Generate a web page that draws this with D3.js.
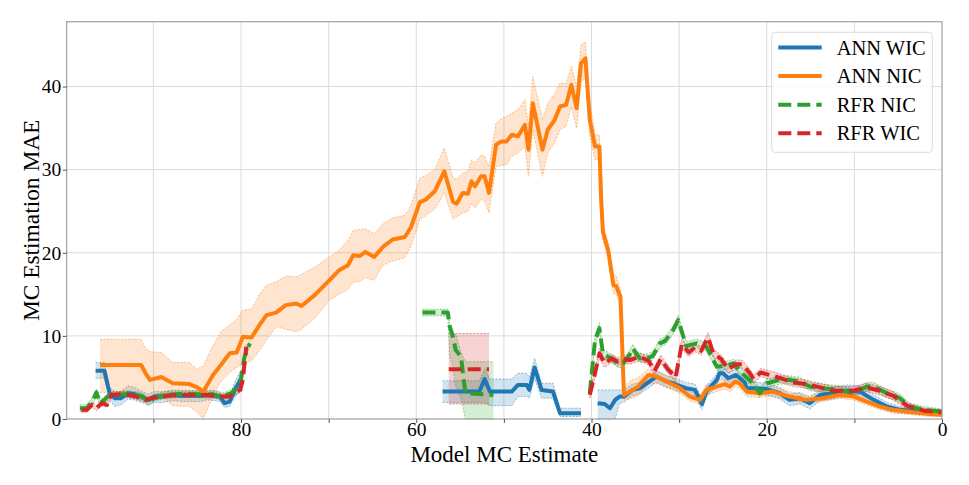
<!DOCTYPE html>
<html><head><meta charset="utf-8">
<script src="https://cdn.jsdelivr.net/npm/d3@7"></script>
<style>body{margin:0;background:#fff}svg{display:block}text{font-family:"Liberation Serif","Times New Roman",serif}</style>
</head><body><svg id="c" width="969" height="485"></svg>
<script>
// ---------- DATA ----------
const xTickValues = [90, 80, 70, 60, 50, 40, 30, 20, 10, 0];
const xTickLabels = [80, 60, 40, 20, 0];
const yTickValues = [0, 10, 20, 30, 40];
const seriesNames = ["ANN WIC", "ANN NIC", "RFR NIC", "RFR WIC"];
const seriesColors = ["#1f77b4", "#ff7f0e", "#2ca02c", "#d62728"];

// ANN WIC
const annWicX  = [96.6,95.6,95.0,94.4,93.7,92.9,92.2,91.4,90.6,89.9,88.9,87.8,86.6,85.5,84.6,83.9,82.9,82.4,81.9,81.3,80.7,80.1,79.8, null,
  57.0,52.8,52.2,51.6,49.1,48.4,47.4,47.1,46.5,45.7,44.4,43.6,41.2, null,
  39.3,38.5,37.9,37.3,36.8,36.3,35.3,34.5,33.7,32.6,32.2,31.4,30.7,30.3,29.2,28.2,27.4,26.9,25.7,25.4,25.0,24.4,23.5,22.5,22.3,21.2,20.0,18.5,17.4,16.2,15.1,13.9,12.4,10.9,9.4,7.8,6.3,4.8,3.3,1.8,0];
const annWicMean = [5.8,5.8,3.1,2.5,2.5,3.1,3.0,2.7,2.3,2.7,2.7,2.9,2.8,2.8,2.8,2.9,2.8,2.7,1.9,2.1,3.5,4.7,4.7, null,
  3.3,3.3,4.8,3.3,3.3,4.1,4.1,3.5,6.2,3.5,3.3,0.7,0.7, null,
  1.9,1.8,1.3,2.3,2.7,2.7,3.5,3.7,4.3,5.1,4.9,4.5,4.3,4.1,3.7,3.5,1.8,3.3,4.7,5.5,5.5,4.9,5.3,4.4,3.7,3.7,3.6,3.1,2.3,2.5,1.9,2.9,3.1,3.4,3.3,2.3,1.5,1.1,1.0,0.9,0.8];
const annWicLo = [4.9,4.9,2.3,1.5,1.7,2.4,2.3,2.0,1.7,2.0,2.0,2.2,2.1,2.1,2.1,2.3,2.2,2.1,1.4,1.5,2.6,3.4,3.4, null,
  2.0,2.0,2.0,1.6,1.6,2.7,2.7,2.5,4.9,2.5,2.5,0.3,0.3, null,
  0.0,0.0,0.0,0.0,1.9,2.0,2.8,3.0,3.6,4.4,4.2,3.8,3.6,3.4,3.0,2.8,1.1,2.6,4.0,4.8,4.8,4.2,4.6,3.7,3.0,3.0,2.9,2.4,1.6,1.8,1.2,2.2,2.4,2.7,2.6,1.7,1.0,0.7,0.6,0.5,0.5];
const annWicHi = [6.8,6.8,3.8,3.3,3.3,4.0,3.8,3.4,3.0,3.3,3.3,3.5,3.4,3.4,3.4,3.5,3.4,3.3,2.5,2.8,4.5,5.7,5.7, null,
  4.6,4.6,6.0,4.8,4.8,5.5,5.5,5.0,7.3,4.3,4.3,1.3,1.3, null,
  3.5,3.5,3.5,3.5,3.5,3.5,4.2,4.4,5.0,5.8,5.6,5.2,5.0,4.8,4.4,4.2,2.5,4.0,5.4,6.2,6.2,5.6,6.0,5.1,4.4,4.4,4.3,3.8,3.0,3.2,2.6,3.6,3.8,4.1,4.0,2.9,2.0,1.5,1.3,1.2,1.1];

// ANN NIC
const annNicX = [96.1,91.4,90.9,90.4,89.1,87.8,85.9,85.0,84.3,83.2,82.3,81.3,80.5,79.8,78.8,77.9,77.1,76.0,74.9,73.7,73.1,71.6,69.9,68.8,67.8,67.2,66.5,65.8,64.8,63.8,62.7,61.3,60.6,59.6,58.9,57.9,56.8,55.8,55.4,54.7,54.1,53.7,53.3,52.6,52.2,51.7,50.9,50.3,49.7,49.1,48.4,47.6,47.2,46.7,45.6,45.0,44.2,43.6,42.9,42.3,41.7,41.2,40.7,40.2,39.6,39.1,38.9,38.7,38.1,37.5,37.2,36.7,36.3,35.6,34.7,33.5,32.6,31.4,29.9,28.8,27.6,26.9,25.7,24.8,24.2,23.6,23.1,22.3,20.8,19.3,17.4,15.5,13.6,11.7,10.1,8.6,7.1,5.6,3.3,1.4,0];
const annNicMean = [6.5,6.5,5.5,4.7,5.05,4.3,4.2,3.8,3.3,5.3,6.5,7.9,8.0,9.9,9.8,11.3,12.5,12.8,13.7,13.9,13.6,14.9,16.7,17.9,18.5,19.7,19.6,20.1,19.5,20.7,21.6,21.9,23.1,26.1,26.4,27.4,29.8,26.1,25.9,27.2,27.1,28.6,28.0,29.2,29.2,27.2,33.0,33.4,33.4,34.2,34.0,35.4,32.4,38.0,32.4,34.8,36.0,37.6,37.8,40.2,37.4,42.8,43.4,36.0,32.8,32.8,26.4,22.5,20.3,16.1,16.0,14.7,2.9,3.3,3.9,5.3,5.1,4.5,3.7,2.7,2.3,3.5,3.9,4.2,3.9,4.5,4.3,3.3,3.1,3.3,2.7,2.3,2.5,2.9,2.7,2.1,1.5,1.1,0.8,0.6,0.5];
const annNicLo = [3.2,3.2,2.7,2.7,2.7,1.6,1.5,0.8,0.0,2.8,4.5,5.6,6.2,6.6,7.0,8.2,9.5,11.1,10.8,10.5,10.8,12.1,14.3,15.0,15.6,16.5,16.5,17.0,16.7,18.5,19.0,19.4,20.8,24.0,24.5,25.2,27.2,24.0,24.3,24.8,25.0,25.9,25.4,26.4,26.2,24.8,30.4,30.5,30.6,31.6,32.0,32.8,29.2,34.8,29.2,32.0,33.2,34.8,35.2,37.6,35.0,40.6,41.0,34.0,31.2,31.2,25.4,21.5,19.3,15.1,15.0,13.8,2.4,2.4,2.8,4.2,4.3,3.8,3.1,2.2,1.8,2.9,3.3,3.6,3.3,3.9,3.7,2.7,2.6,2.8,2.2,1.9,2.1,2.5,2.3,1.7,1.1,0.7,0.5,0.3,0.3];
const annNicHi = [9.6,9.6,8.5,8.1,8.0,6.8,6.8,6.0,6.4,8.8,10.5,11.3,12.0,13.1,13.2,15.0,16.1,16.5,17.2,17.1,17.4,18.3,19.5,20.3,21.5,22.7,22.8,22.9,22.3,23.5,24.2,24.5,25.7,29.0,29.3,30.0,32.6,29.0,28.8,29.6,29.8,31.2,30.8,31.8,31.6,30.4,35.6,36.1,36.4,36.8,37.2,38.4,35.2,41.2,36.0,38.0,39.2,40.4,40.4,42.4,40.0,45.0,45.4,38.2,34.2,34.2,27.4,23.5,21.2,17.5,17.2,15.6,3.6,4.6,5.0,6.0,5.8,5.2,4.3,3.3,2.9,4.1,4.5,4.8,4.5,5.1,4.9,3.9,3.7,3.9,3.3,2.8,3.0,3.3,3.1,2.5,1.9,1.5,1.1,0.9,0.8];

// RFR NIC
const rfrNicX = [98.4,97.6,96.9,96.5,96.1,95.6,95.0,94.2,93.0,92.0,91.2,90.6,89.8,88.6,87.1,85.5,83.9,83.3,82.3,81.1,80.1,79.6,79.0, null,
  59.3,56.4,56.2,55.9,55.5,54.9,54.4,51.2, null,
  40.2,39.6,39.1,38.7,38.1,37.5,37.0,36.4,35.8,35.3,34.5,33.7,33.0,32.2,31.6,30.7,30.1,29.2,28.0,26.9,25.7,24.7,23.8,22.8,21.6,20.8,20.0,18.5,17.4,16.2,15.1,13.6,11.7,10.1,8.6,7.8,6.3,4.8,3.7,2.1,0];
const rfrNicMean = [1.3,1.3,2.3,3.2,1.9,2.3,2.9,2.9,3.0,2.9,2.7,2.0,2.6,2.9,3.0,3.0,2.9,3.0,2.7,3.1,4.3,7.5,9.1, null,
  12.8,12.8,11.2,10.2,8.3,7.5,3.1,2.9, null,
  3.1,9.5,10.9,7.9,7.5,7.1,6.7,6.7,7.5,8.5,7.3,7.3,7.6,9.1,9.4,10.7,11.9,8.8,9.1,8.7,6.3,6.4,6.7,5.5,4.3,3.1,4.3,4.7,4.7,4.5,3.9,3.7,3.5,3.1,3.9,3.9,3.1,2.5,1.5,1.1,0.9];
const rfrNicLo = [0.9,0.9,1.9,2.8,1.5,1.9,2.5,2.5,2.6,2.5,2.3,1.6,2.2,2.5,2.6,2.6,2.5,2.6,2.3,2.7,3.9,7.1,8.7, null,
  12.4,12.4,7.5,6.5,4.0,2.5,0.0,0.0, null,
  2.6,9.0,10.3,7.4,7.0,6.6,6.2,6.2,7.0,8.0,6.8,6.8,7.1,8.6,8.9,10.2,11.3,8.3,8.6,8.2,5.8,5.9,6.2,5.0,3.8,2.6,3.8,4.2,4.2,4.0,3.4,3.2,3.0,2.6,3.4,3.4,2.6,2.0,1.1,0.7,0.6];
const rfrNicHi = [1.7,1.7,2.7,3.6,2.3,2.7,3.3,3.3,3.4,3.3,3.1,2.4,3.0,3.3,3.4,3.4,3.3,3.4,3.1,3.5,4.7,7.9,9.5, null,
  13.2,13.2,11.5,10.2,10.2,8.0,6.9,6.9, null,
  3.6,10.0,11.6,8.4,8.0,7.6,7.2,7.2,8.0,9.0,7.8,7.8,8.1,9.6,9.9,11.2,12.5,9.3,9.6,9.2,6.8,6.9,7.2,6.0,4.8,3.6,4.8,5.2,5.2,5.0,4.4,4.2,4.0,3.6,4.4,4.4,3.6,3.0,1.9,1.5,1.2];

// RFR WIC
const rfrWicX = [98.2,97.6,97.0,96.5,95.9,95.3,94.8,93.3,92.0,90.9,89.8,88.6,87.1,85.5,83.9,82.4,81.3,80.1,79.8,79.4, null,
  56.3,51.7, null,
  40.2,39.6,39.1,38.5,37.7,37.0,36.4,35.6,34.5,33.5,32.8,32.1,31.3,30.4,29.7,28.9,28.2,27.5,26.7,26.1,25.2,24.4,23.5,22.8,22.0,21.5,20.7,19.3,18.1,17.0,15.5,13.9,12.4,10.1,8.6,7.1,5.6,4.0,2.1,0];
const rfrWicMean = [1.1,1.1,1.7,1.3,1.9,1.7,2.9,3.0,2.7,2.3,2.6,2.8,2.9,2.9,2.9,2.7,2.7,3.5,4.7,8.7, null,
  6.0,6.0, null,
  2.9,5.5,7.9,6.7,7.3,6.9,7.2,7.1,7.5,7.0,5.8,7.2,6.0,5.0,9.0,8.0,8.6,8.2,9.8,7.9,7.2,6.0,6.6,6.6,5.6,4.8,5.6,5.2,4.8,4.4,4.2,3.8,3.4,3.4,3.8,3.4,2.8,1.6,1.0,0.8];
const rfrWicLo = [0.8,0.8,1.4,1.0,1.6,1.4,2.6,2.7,2.4,2.0,2.3,2.5,2.6,2.6,2.6,2.4,2.4,3.2,4.4,8.4, null,
  1.8,1.8, null,
  2.5,5.0,7.3,6.2,6.8,6.4,6.7,6.6,7.0,6.5,5.3,6.7,5.5,4.5,8.4,7.5,8.1,7.7,9.2,7.4,6.7,5.5,6.1,6.1,5.1,4.3,5.1,4.7,4.3,3.9,3.7,3.3,2.9,2.9,3.3,2.9,2.3,1.2,0.7,0.5];
const rfrWicHi = [1.4,1.4,2.0,1.6,2.2,2.0,3.2,3.3,3.0,2.6,2.9,3.1,3.2,3.2,3.2,3.0,3.0,3.8,5.0,9.0, null,
  10.3,10.3, null,
  3.4,6.0,8.5,7.2,7.8,7.4,7.7,7.6,8.0,7.5,6.3,7.7,6.5,5.5,9.6,8.5,9.1,8.7,10.4,8.4,7.7,6.5,7.1,7.1,6.1,5.3,6.1,5.7,5.3,4.9,4.7,4.3,3.9,3.9,4.3,3.9,3.3,2.0,1.3,1.1];

// ---------- CHART ----------
const svg = d3.select("#c");
const L = 66.7, R = 942, T = 21.7, B = 419;
const x = d3.scaleLinear().domain([99.9, 0]).range([L, R]);
const y = d3.scaleLinear().domain([0, 47.8]).range([B, T]);

// grid
const g = svg.append("g");
g.selectAll("line.vx").data(xTickValues.filter(v => v > 0)).enter().append("line")
  .attr("x1", d => x(d)).attr("x2", d => x(d)).attr("y1", T).attr("y2", B)
  .attr("stroke", "#dcdcdc").attr("stroke-width", 1);
g.selectAll("line.hy").data(yTickValues.filter(v => v > 0)).enter().append("line")
  .attr("x1", L).attr("x2", R).attr("y1", d => y(d)).attr("y2", d => y(d))
  .attr("stroke", "#dcdcdc").attr("stroke-width", 1);

function build(X, M, Lo, Hi) {
  return X.map((v, i) => ({x: v, m: M[i], lo: Lo[i], hi: Hi[i]}));
}
const all = [
  build(annWicX, annWicMean, annWicLo, annWicHi),
  build(annNicX, annNicMean, annNicLo, annNicHi),
  build(rfrNicX, rfrNicMean, rfrNicLo, rfrNicHi),
  build(rfrWicX, rfrWicMean, rfrWicLo, rfrWicHi)
];
const dashes = [null, null, "13,6", "13,6"];

const plot = svg.append("g");
const area = d3.area().defined(d => d.m != null).x(d => x(d.x)).y0(d => y(d.lo)).y1(d => y(d.hi));
const lineLo = d3.line().defined(d => d.m != null).x(d => x(d.x)).y(d => y(d.lo));
const lineHi = d3.line().defined(d => d.m != null).x(d => x(d.x)).y(d => y(d.hi));
const line = d3.line().defined(d => d.m != null).x(d => x(d.x)).y(d => y(d.m));

all.forEach((data, i) => {
  plot.append("path").attr("d", area(data)).attr("fill", seriesColors[i]).attr("fill-opacity", 0.2).attr("stroke", "none");
  [lineLo, lineHi].forEach(fn => plot.append("path").attr("d", fn(data)).attr("fill", "none")
    .attr("stroke", seriesColors[i]).attr("stroke-width", 0.8).attr("stroke-opacity", 0.6).attr("stroke-dasharray", "2,1.5"));
});
all.forEach((data, i) => {
  const p = plot.append("path").attr("d", line(data)).attr("fill", "none")
    .attr("stroke", seriesColors[i]).attr("stroke-width", 4).attr("stroke-linejoin", "round");
  if (dashes[i]) p.attr("stroke-dasharray", dashes[i]);
});

// frame
svg.append("rect").attr("x", L).attr("y", T).attr("width", R - L).attr("height", B - T)
  .attr("fill", "none").attr("stroke", "#a0a0a0").attr("stroke-width", 1.2);

// axes
const xAxis = d3.axisBottom(x).tickValues(xTickValues).tickSize(4).tickPadding(-0.5)
  .tickFormat(d => xTickLabels.includes(d) ? d : "");
const xg = svg.append("g").attr("transform", `translate(0,${B})`).call(xAxis);
xg.select(".domain").remove();
xg.selectAll(".tick line").attr("stroke", "#555");
xg.selectAll("text").attr("font-size", 19.5).attr("fill", "#000").attr("font-family", "Liberation Serif");

const yAxis = d3.axisLeft(y).tickValues(yTickValues).tickSize(4).tickPadding(1.5);
const yg = svg.append("g").attr("transform", `translate(${L},0)`).call(yAxis);
yg.select(".domain").remove();
yg.selectAll(".tick line").attr("stroke", "#555");
yg.selectAll("text").attr("font-size", 19.5).attr("fill", "#000").attr("font-family", "Liberation Serif");

svg.append("text").attr("x", (L + R) / 2).attr("y", 461.5).attr("text-anchor", "middle")
  .attr("font-size", 23).text("Model MC Estimate");
svg.append("text").attr("transform", `translate(39,${(T + B) / 2}) rotate(-90)`).attr("text-anchor", "middle")
  .attr("font-size", 23.4).text("MC Estimation MAE");

// legend
const lg = svg.append("g");
lg.append("rect").attr("x", 771.7).attr("y", 32.3).attr("width", 160.6).attr("height", 120)
  .attr("rx", 3).attr("fill", "#fff").attr("fill-opacity", 0.8).attr("stroke", "#dcdcdc").attr("stroke-width", 1);
seriesNames.forEach((name, i) => {
  const cy = 47.5 + i * 28.6;
  const l = lg.append("line").attr("x1", 778.3).attr("x2", 821.7).attr("y1", cy).attr("y2", cy)
    .attr("stroke", seriesColors[i]).attr("stroke-width", 4);
  if (dashes[i]) l.attr("stroke-dasharray", dashes[i]);
  lg.append("text").attr("x", 836.7).attr("y", cy + 7).attr("font-size", 20.5).text(name);
});
</script></body></html>
